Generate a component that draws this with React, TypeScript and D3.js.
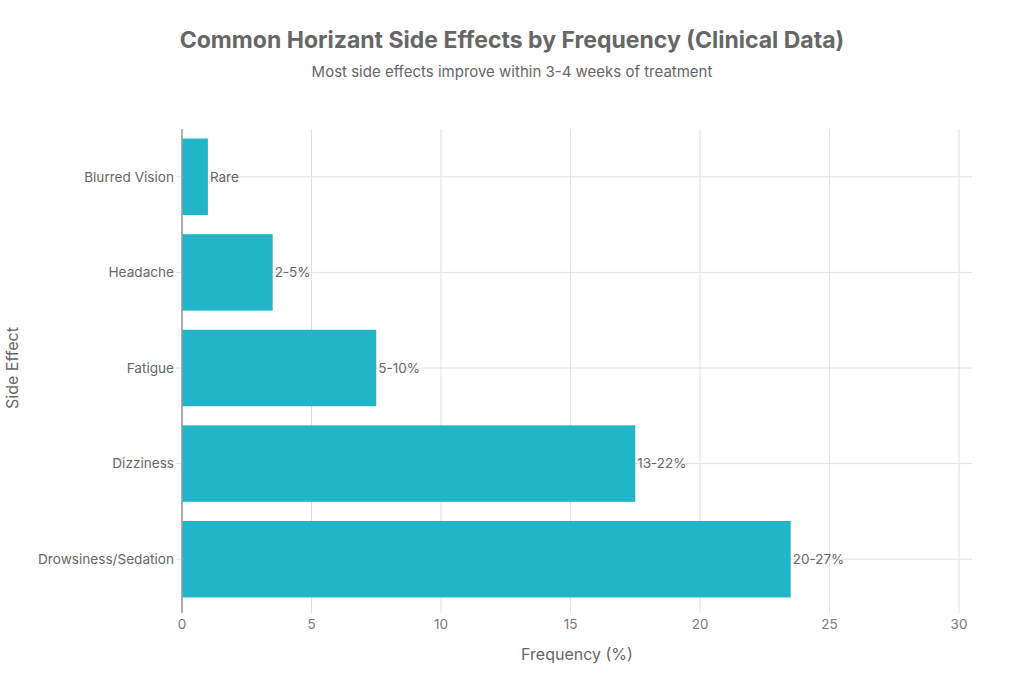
import React, { useEffect, useRef } from "react";
import * as d3 from "d3";

const categories = ["Blurred Vision", "Headache", "Fatigue", "Dizziness", "Drowsiness/Sedation"];
const values = [1, 3.5, 7.5, 17.5, 23.5];
const valueLabels = ["Rare", "2-5%", "5-10%", "13-22%", "20-27%"];
const xTicks = [0, 5, 10, 15, 20, 25, 30];

const W = 1024;
const H = 683;
const FONT = "Inter, 'Open Sans', sans-serif";

export default function App() {
  const ref = useRef<SVGSVGElement | null>(null);

  useEffect(() => {
    const svg = d3.select(ref.current);
    svg.selectAll("*").remove();

    const left = 182, right = 972, top = 129, bottom = 607;
    const x = d3.scaleLinear().domain([0, 30.5]).range([left, right]);
    const y = d3.scaleBand<string>().domain(categories).range([top, bottom]).paddingInner(0.2).paddingOuter(0.1);

    svg.append("rect").attr("width", W).attr("height", H).attr("fill", "#fff");

    // title
    svg.append("text").attr("x", 512).attr("y", 48).attr("text-anchor", "middle")
      .attr("font-family", FONT).attr("font-size", 23).attr("font-weight", 700)
      .attr("fill", "#666").text("Common Horizant Side Effects by Frequency (Clinical Data)");
    svg.append("text").attr("x", 512).attr("y", 77).attr("text-anchor", "middle")
      .attr("font-family", FONT).attr("font-size", 15)
      .attr("fill", "#666").text("Most side effects improve within 3-4 weeks of treatment");

    // vertical gridlines
    const g = svg.append("g");
    g.selectAll("line.vg").data(xTicks).enter().append("line")
      .attr("x1", d => x(d)).attr("x2", d => x(d))
      .attr("y1", top).attr("y2", bottom)
      .attr("stroke", "#e0e0e0").attr("stroke-width", 1);
    // horizontal gridlines
    g.selectAll("line.hg").data(categories).enter().append("line")
      .attr("x1", left - 6).attr("x2", right)
      .attr("y1", d => (y(d) as number) + y.bandwidth() / 2)
      .attr("y2", d => (y(d) as number) + y.bandwidth() / 2)
      .attr("stroke", "#e0e0e0").attr("stroke-width", 1);

    // bars
    svg.selectAll("rect.bar").data(categories).enter().append("rect")
      .attr("x", x(0)).attr("y", d => y(d) as number)
      .attr("width", (_d, i) => x(values[i]) - x(0))
      .attr("height", y.bandwidth())
      .attr("fill", "#21b5c9");

    // value labels
    svg.selectAll("text.vl").data(categories).enter().append("text")
      .attr("x", (_d, i) => x(values[i]) + 2)
      .attr("y", d => (y(d) as number) + y.bandwidth() / 2)
      .attr("dy", "0.35em")
      .attr("font-family", FONT).attr("font-size", 13.5)
      .attr("fill", "#666").text((_d, i) => valueLabels[i]);

    // x axis ticks
    const xa = svg.append("g");
    xa.selectAll("line").data(xTicks).enter().append("line")
      .attr("x1", d => x(d)).attr("x2", d => x(d))
      .attr("y1", bottom).attr("y2", bottom + 6)
      .attr("stroke", "#e0e0e0");
    xa.selectAll("text").data(xTicks).enter().append("text")
      .attr("x", d => x(d)).attr("y", bottom + 22)
      .attr("text-anchor", "middle").attr("font-family", FONT).attr("font-size", 13.5)
      .attr("fill", "#777").text(d => String(d));

    // y axis labels
    svg.selectAll("text.yl").data(categories).enter().append("text")
      .attr("x", left - 8)
      .attr("y", d => (y(d) as number) + y.bandwidth() / 2)
      .attr("dy", "0.35em").attr("text-anchor", "end")
      .attr("font-family", FONT).attr("font-size", 13.6)
      .attr("fill", "#666").text(d => d);

    // y axis line
    svg.append("line").attr("x1", left).attr("x2", left).attr("y1", top).attr("y2", bottom + 6)
      .attr("stroke", "#999").attr("stroke-width", 1.5);

    // axis titles
    svg.append("text").attr("x", 577).attr("y", 660).attr("text-anchor", "middle")
      .attr("font-family", FONT).attr("font-size", 16).attr("fill", "#666").text("Frequency (%)");
    svg.append("text").attr("transform", `translate(18,${(top + bottom) / 2}) rotate(-90)`)
      .attr("text-anchor", "middle").attr("font-family", FONT).attr("font-size", 16)
      .attr("fill", "#666").text("Side Effect");
  }, []);

  return <svg ref={ref} width={W} height={H} style={{ display: "block", position: "absolute", left: 0, top: 0 }} />;
}
